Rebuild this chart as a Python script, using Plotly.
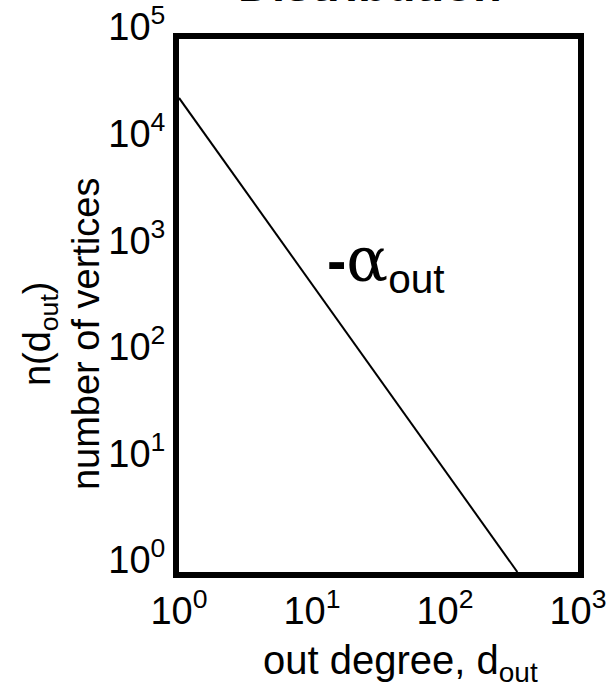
import plotly.graph_objects as go

# Data (power-law line on log-log axes)
degree = [1, 350]
n_vertices = [28000, 1]

x_tickvals = [1, 10, 100, 1000]
x_ticktext = ["10<sup>0</sup>", "10<sup>1</sup>", "10<sup>2</sup>", "10<sup>3</sup>"]
y_tickvals = [1, 10, 100, 1000, 10000, 100000]
y_ticktext = ["10<sup>0</sup>", "10<sup>1</sup>", "10<sup>2</sup>", "10<sup>3</sup>",
              "10<sup>4</sup>", "10<sup>5</sup>"]

FONT = "Liberation Sans, Arial, sans-serif"

fig = go.Figure()
fig.add_trace(go.Scatter(x=degree, y=n_vertices, mode="lines",
                         line=dict(color="black", width=2), showlegend=False,
                         cliponaxis=True))

axis_common = dict(type="log", showgrid=False, zeroline=False, showline=True,
                   linecolor="black", linewidth=6, mirror=True, ticks="",
                   automargin=False,
                   tickfont=dict(family=FONT, size=38, color="black"))

fig.update_xaxes(range=[0, 3], tickvals=x_tickvals, ticktext=x_ticktext, **axis_common)
fig.update_yaxes(range=[0, 5], tickvals=y_tickvals, ticktext=y_ticktext,
                 ticklabelshift=-12, **axis_common)

annotations = [
    dict(text="<b>Distribution</b>", xref="paper", yref="paper", x=0.479, y=1,
         xanchor="center", yanchor="bottom", yshift=26, showarrow=False,
         font=dict(family=FONT, size=47, color="black")),
    dict(text="n(d<sub>out</sub>)<br>number of vertices", xref="paper", yref="paper",
         x=-0.296, y=0.448, xanchor="center", yanchor="middle", textangle=-90,
         showarrow=False, font=dict(family=FONT, size=38, color="black")),
    dict(text="out degree, d<sub>out</sub>", xref="paper", yref="paper",
         x=0.556, y=-0.171, xanchor="center", yanchor="middle", showarrow=False,
         font=dict(family=FONT, size=40, color="black")),
    dict(text='<b>-</b><span style="font-family:DejaVu Serif;font-size:62px">α</span><sub>out</sub>',
         xref="paper", yref="paper", x=0.519, y=0.581, xanchor="center", yanchor="middle",
         showarrow=False, font=dict(family=FONT, size=58, color="black")),
]

fig.update_layout(width=616, height=684, autosize=False,
                  margin=dict(l=179, r=38, t=39, b=112, autoexpand=False),
                  paper_bgcolor="white", plot_bgcolor="white",
                  annotations=annotations, showlegend=False)

fig.write_html("out.html")
